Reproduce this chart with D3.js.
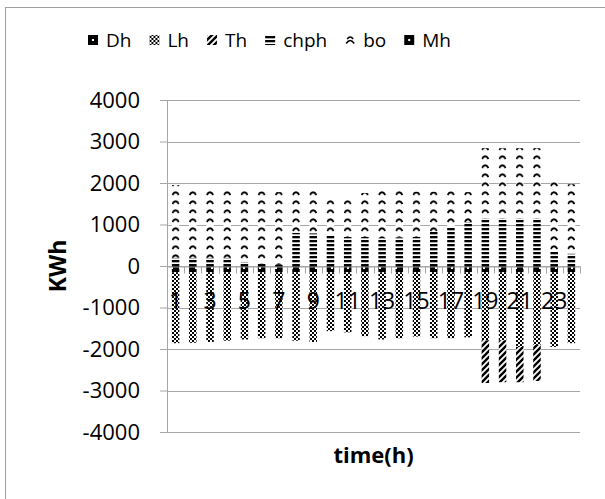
<!DOCTYPE html>
<html>
<head>
<meta charset="utf-8">
<script src="https://cdn.jsdelivr.net/npm/d3@7"></script>
<style>
  html, body { margin: 0; padding: 0; background: #fff; }
  svg { display: block; font-family: 'Open Sans', sans-serif; }
</style>
</head>
<body>
<div id="chart"></div>
<script>
'use strict';

// hours of the day
var hours = [1, 2, 3, 4, 5, 6, 7, 8, 9, 10, 11, 12, 13, 14, 15, 16, 17, 18, 19, 20, 21, 22, 23, 24];
var hourLabels = ['1', '', '3', '', '5', '', '7', '', '9', '', '11', '', '13', '', '15', '', '17', '', '19', '', '21', '', '23', ''];
var yTicks = [4000, 3000, 2000, 1000, 0, -1000, -2000, -3000, -4000];

// series (KWh)
var Dh = [-150, -150, -150, -150, -150, -150, -150, -150, -150, -150, -150, -150,
	-150, -150, -150, -150, -150, -150, -150, -150, -150, -150, -150, -150];
var Lh = [-1710, -1700, -1680, -1650, -1620, -1590, -1590, -1650, -1680, -1420, -1450, -1540,
	-1620, -1590, -1550, -1590, -1590, -1570, -1640, -1640, -1800, -1750, -1800, -1710];
var Th = [0, 0, 0, 0, 0, 0, 0, 0, 0, 0, 0, 0,
	0, 0, 0, 0, 0, 0, -1030, -1010, -850, -870, 0, 0];
var chph = [200, 200, 200, 200, 100, 60, 30, 800, 790, 750, 700, 700,
	670, 690, 700, 820, 940, 1060, 1150, 1150, 1150, 1150, 340, 300];
var bo = [1750, 1700, 1700, 1700, 1750, 1740, 1750, 1080, 1090, 860, 940, 1060,
	1180, 1140, 1090, 970, 860, 720, 1690, 1690, 1690, 1690, 1680, 1670];
var Mh = [0, 0, 0, 0, 0, 0, 0, 0, 0, 0, 0, 0,
	0, 0, 0, 0, 0, 0, 0, 0, 0, 0, 0, 0];

var keys = ['Dh', 'Lh', 'Th', 'chph', 'bo', 'Mh'];
var seriesData = { Dh: Dh, Lh: Lh, Th: Th, chph: chph, bo: bo, Mh: Mh };

var rows = hours.map(function (h, i) {
	var row = { hour: h };
	keys.forEach(function (k) { row[k] = seriesData[k][i]; });
	return row;
});

var width = 605, height = 499;
var plot = { left: 167, right: 580, top: 100, bottom: 432 };
var gridColor = '#a6a6a6';

var svg = d3.select('#chart').append('svg')
	.attr('width', width)
	.attr('height', height);

// fill patterns
var defs = svg.append('defs');

['Dh', 'Mh'].forEach(function (k) {
	var p = defs.append('pattern').attr('id', 'p-' + k).attr('patternUnits', 'userSpaceOnUse')
		.attr('width', 8).attr('height', 8);
	p.append('rect').attr('width', 8).attr('height', 8).attr('fill', '#000');
	p.append('rect').attr('x', 3).attr('y', 3).attr('width', 2).attr('height', 2).attr('fill', '#fff');
});

var pLh = defs.append('pattern').attr('id', 'p-Lh').attr('patternUnits', 'userSpaceOnUse')
	.attr('width', 4).attr('height', 4);
pLh.append('rect').attr('width', 4).attr('height', 4).attr('fill', '#fff');
pLh.append('rect').attr('width', 2).attr('height', 2).attr('fill', '#000');
pLh.append('rect').attr('x', 2).attr('y', 2).attr('width', 2).attr('height', 2).attr('fill', '#000');

var pTh = defs.append('pattern').attr('id', 'p-Th').attr('patternUnits', 'userSpaceOnUse')
	.attr('width', 6).attr('height', 6);
pTh.append('rect').attr('width', 6).attr('height', 6).attr('fill', '#fff');
pTh.append('path').attr('d', 'M-1.5,1.5 l3,-3 M0,6 l6,-6 M4.5,7.5 l3,-3')
	.attr('stroke', '#000').attr('stroke-width', 2.4);

var pChph = defs.append('pattern').attr('id', 'p-chph').attr('patternUnits', 'userSpaceOnUse')
	.attr('width', 4).attr('height', 4);
pChph.append('rect').attr('width', 4).attr('height', 4).attr('fill', '#fff');
pChph.append('rect').attr('width', 4).attr('height', 2.3).attr('fill', '#000');

var pBo = defs.append('pattern').attr('id', 'p-bo').attr('patternUnits', 'userSpaceOnUse')
	.attr('width', 17.2).attr('height', 9).attr('x', 167);
pBo.append('rect').attr('width', 17.2).attr('height', 9).attr('fill', '#fff');
pBo.append('path').attr('d', 'M5.3,6 Q8.6,0.5 11.9,6')
	.attr('fill', 'none').attr('stroke', '#000').attr('stroke-width', 2);

// outer frame
svg.append('rect')
	.attr('x', 5.5).attr('y', 7.5)
	.attr('width', 700).attr('height', 600)
	.attr('fill', 'none').attr('stroke', '#a0a0a0');

// scales
var x = d3.scaleBand().domain(hours).range([plot.left, plot.right]).padding(0);
var y = d3.scaleLinear().domain([-4000, 4000]).range([plot.bottom, plot.top]);
var barW = 7.5;

// grid lines and y axis
var yAxis = d3.axisLeft(y).tickValues(yTicks).tickSize(7).tickFormat(function (d) { return String(d); });
var gy = svg.append('g').attr('transform', 'translate(' + plot.left + ',0)').call(yAxis);
gy.select('.domain').attr('stroke', gridColor);
gy.selectAll('.tick line').attr('stroke', gridColor);
gy.selectAll('.tick text')
	.attr('x', -27)
	.attr('fill', '#000')
	.style('font-size', '22px')
	.style('font-family', "'Open Sans', sans-serif");

svg.append('g').selectAll('line').data(yTicks).enter().append('line')
	.attr('x1', plot.left).attr('x2', plot.right)
	.attr('y1', function (d) { return Math.round(y(d)) + 0.5; })
	.attr('y2', function (d) { return Math.round(y(d)) + 0.5; })
	.attr('stroke', gridColor);

// stacked bars
var stack = d3.stack().keys(keys).offset(d3.stackOffsetDiverging);
var layers = stack(rows);

svg.append('g').selectAll('g').data(layers).enter().append('g')
	.attr('fill', function (d) { return 'url(#p-' + d.key + ')'; })
	.selectAll('rect').data(function (d) { return d; }).enter().append('rect')
	.attr('x', function (d) { return x(d.data.hour) + x.bandwidth() / 2 - barW / 2; })
	.attr('width', barW)
	.attr('y', function (d) { return y(Math.max(d[0], d[1])); })
	.attr('height', function (d) { return Math.abs(y(d[0]) - y(d[1])); });

// category axis on zero line
var zeroY = Math.round(y(0)) + 0.5;
var xAxis = d3.axisBottom(x).tickSize(0).tickFormat(function (d, i) { return hourLabels[i]; });
var gx = svg.append('g').attr('transform', 'translate(0,' + zeroY + ')').call(xAxis);
gx.select('.domain').attr('stroke', gridColor);
gx.selectAll('.tick text')
	.attr('y', 34)
	.attr('dy', '0.35em')
	.attr('fill', '#000')
	.style('font-size', '23px')
	.style('font-family', "'Open Sans', sans-serif");

var boundaries = hours.map(function (h) { return x(h); }).concat([plot.right]);
svg.append('g').selectAll('line').data(boundaries).enter().append('line')
	.attr('x1', function (d) { return Math.round(d) + 0.5; })
	.attr('x2', function (d) { return Math.round(d) + 0.5; })
	.attr('y1', zeroY).attr('y2', zeroY + 7)
	.attr('stroke', gridColor);

// axis titles
svg.append('text')
	.attr('transform', 'translate(58,266) rotate(-90)')
	.attr('text-anchor', 'middle')
	.attr('dy', '0.35em')
	.style('font-size', '23px')
	.style('font-weight', 'bold')
	.text('KWh');

svg.append('text')
	.attr('x', (plot.left + plot.right) / 2)
	.attr('y', 455)
	.attr('text-anchor', 'middle')
	.attr('dy', '0.35em')
	.style('font-size', '22px')
	.style('font-weight', 'bold')
	.text('time(h)');

// legend
var legend = svg.append('g').attr('transform', 'translate(88,40)');
var lx = 0;
keys.forEach(function (k) {
	var item = legend.append('g').attr('transform', 'translate(' + lx + ',0)');
	if (k === 'bo') {
		item.append('path').attr('d', 'M1,3.5 Q5,-2.5 9,3.5 M2,-1 Q5,-5 8,-1')
			.attr('fill', 'none').attr('stroke', '#000').attr('stroke-width', 1.5);
	} else if (k === 'Dh' || k === 'Mh') {
		item.append('rect').attr('x', 0).attr('y', -5).attr('width', 10).attr('height', 10).attr('fill', '#000');
		item.append('rect').attr('x', 4).attr('y', -1).attr('width', 2).attr('height', 2).attr('fill', '#fff');
	} else {
		item.append('rect').attr('x', 0).attr('y', -5).attr('width', 10).attr('height', 10)
			.attr('fill', 'url(#p-' + k + ')');
	}
	var t = item.append('text')
		.attr('x', 18).attr('y', 0)
		.attr('dy', '0.35em')
		.style('font-size', '19px')
		.text(k);
	lx += 18 + t.node().getComputedTextLength() + 18;
});
</script>
</body>
</html>
